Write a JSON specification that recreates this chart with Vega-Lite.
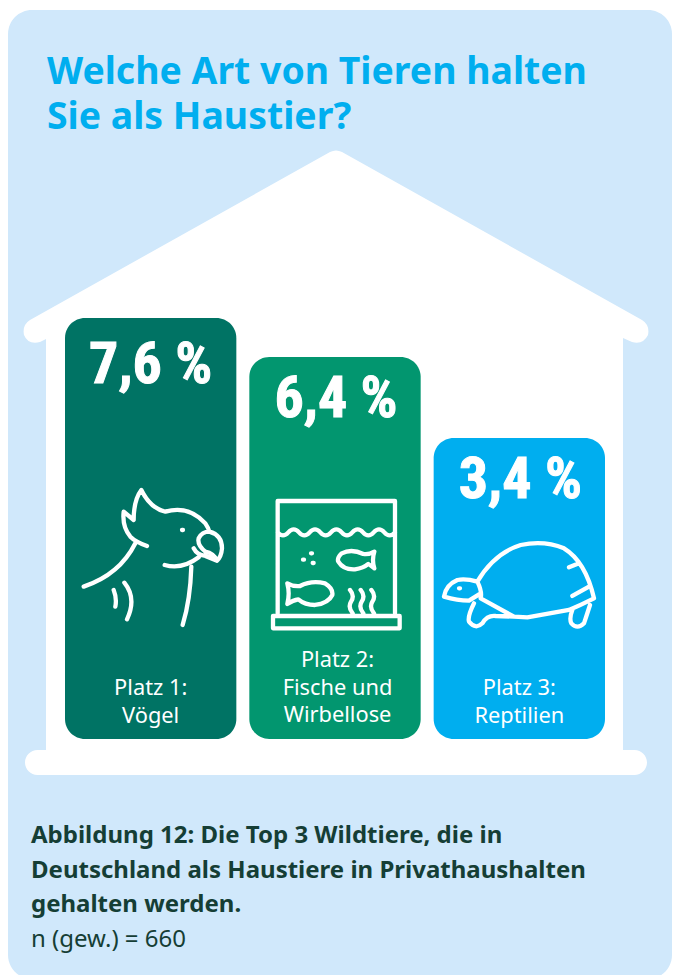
{
"$schema":"https://vega.github.io/schema/vega-lite/v6.json",
"width":676,"height":975,"autosize":"none","padding":0,"background":"white",
"config":{"view":{"stroke":null}},
"layer":[
{"data":{"values":[{"part":"card"}]},"mark":{"type":"point","shape":"M-306 -477.5 H310 A24 24 0 0 1 334 -453.5 V467.5 A24 24 0 0 1 310 491.5 H-306 A24 24 0 0 1 -330 467.5 V-453.5 A24 24 0 0 1 -306 -477.5 Z","size":4,"filled":true,"fill":"#d0e8fb","opacity":1,"strokeWidth":0}},
{"data":{"values":[{"part":"house"}]},"mark":{"type":"point","shape":"M -8 -335.5 Q -2 -338.5 4 -335.5 L 304 -167.5 Q 312 -162.5 310 -152.5 Q 305 -142.5 294 -145.5 L 285 -149.5 V 262.5 H 296.5 A 12.5 12.5 0 0 1 296.5 287.5 H -300.5 A 12.5 12.5 0 0 1 -300.5 262.5 H -292 V -148.5 L -298 -145.5 Q -310 -142.5 -314 -152.5 Q -316 -162.5 -308 -167.5 Z","size":4,"filled":true,"fill":"white","opacity":1,"strokeWidth":0}},
{"data":{"values":[{"heading":"Welche Art von Tieren halten\nSie als Haustier?"}]},"mark":{"type":"text","font":"Noto Sans","fontWeight":"bold","fontSize":37.4,"color":"#00aeef","align":"left","baseline":"alphabetic","lineBreak":"\n","lineHeight":45,"dx":-291,"dy":-403.5},"encoding":{"text":{"field":"heading"}}},
{"data":{"values":[
{"rank":"Platz 1","animal":"Vögel","value":7.6,"pct":"7,6 %","label":"Platz 1:\nVögel"},
{"rank":"Platz 2","animal":"Fische und Wirbellose","value":6.4,"pct":"6,4 %","label":"Platz 2:\nFische und\nWirbellose"},
{"rank":"Platz 3","animal":"Reptilien","value":3.4,"pct":"3,4 %","label":"Platz 3:\nReptilien"}
]},
"encoding":{
"x":{"field":"rank","type":"nominal","axis":null,"sort":null,"scale":{"domain":["Platz 1","Platz 2","Platz 3"],"range":[65,605],"paddingInner":0.0705,"paddingOuter":0}},
"y":{"field":"value","type":"quantitative","axis":null,"stack":null,"scale":{"domain":[0,3.4,6.4,7.6],"range":[739,438,357,318],"nice":false,"zero":false}}
},
"layer":[
{"mark":{"type":"bar","cornerRadius":20},"encoding":{"color":{"field":"rank","type":"nominal","legend":null,"scale":{"domain":["Platz 1","Platz 2","Platz 3"],"range":["#007364","#02966f","#00aeef"]}}}},
{"mark":{"type":"point","filled":false,"stroke":"white","strokeWidth":4.3,"strokeCap":"round","strokeJoin":"round","opacity":1,"size":0.4444},
"encoding":{"shape":{"field":"rank","type":"nominal","legend":null,"scale":{"domain":["Platz 1","Platz 2","Platz 3"],"range":[
"M-201 806 C-126 781 -76 736 -46 676 M-11 684 Q-46 671 -61 656 Q-86 626 -81 581 L-51 606 Q-51 546 -28 516 Q-1 571 44 581 Q114 561 164 616 Q174 631 176 641 Q214 651 214 691 Q212 716 199 728 Q189 706 164 701 Q139 681 144 661 Q154 641 176 641 M129 691 Q139 711 164 714 L199 728 M42 741 Q94 756 144 718 M122 746 Q119 846 96 921 M94 636 h3 M-79 794 Q-41 841 -71 904 M-111 816 Q-101 841 -106 866",
"M-172 769 V432 H180 V769 M-186 777 H194 V814 H-186 Z M-172 526 q16 18 32 0 q16 -18 32 0 q16 18 32 0 q16 -18 32 0 q16 18 32 0 q16 -18 32 0 q16 18 32 0 q16 -18 32 0 q16 18 32 0 q16 -18 32 0 q16 18 32 0 M-72 589 h3 M-96 608 h3 M-67 618 h3 M118 584 Q100 594 85 591 Q50 574 20 589 Q5 604 10 614 Q25 639 60 637 Q85 634 100 621 Q105 624 118 634 Q110 609 118 584 Z M-143 679 Q-125 689 -105 687 Q-70 669 -30 679 Q-5 694 -8 714 Q-20 739 -60 744 Q-90 744 -110 727 Q-125 729 -143 741 Q-135 709 -143 679 Z M45 699 Q60 717 48 734 Q38 751 53 769 M77 699 Q92 717 80 734 Q70 751 85 769 M109 699 Q124 717 112 734 Q102 751 117 769",
"M-126 431 Q-76 346 4 321 Q74 306 134 331 Q199 371 224 481 Q184 501 149 516 L24 538 L-16 536 L-116 481 Q-111 461 -126 431 Q-161 421 -186 426 Q-221 441 -226 476 Q-186 488 -151 488 L-116 466 M-181 451 h3 M-136 496 Q-156 536 -151 551 Q-131 576 -111 556 Q-96 531 -71 534 L-16 536 M159 516 Q149 541 156 556 Q174 576 194 556 Q204 526 212 501 M149 388 L179 376 M159 474 L209 446"
]}}}},
{"transform":[{"filter":"datum.value > 7"}],"mark":{"type":"text","font":"Roboto Condensed, Noto Sans Condensed, DejaVu Sans Condensed, Roboto","fontWeight":"bold","fontSize":58,"color":"white","stroke":"white","strokeWidth":1,"baseline":"alphabetic","dy":65},"encoding":{"text":{"field":"pct"}}},
{"transform":[{"filter":"datum.value < 7"}],"mark":{"type":"text","font":"Roboto Condensed, Noto Sans Condensed, DejaVu Sans Condensed, Roboto","fontWeight":"bold","fontSize":58,"color":"white","stroke":"white","strokeWidth":1,"baseline":"alphabetic","dy":60,"dx":1},"encoding":{"text":{"field":"pct"}}},
{"transform":[{"filter":"datum.value > 7 || datum.value < 4"}],"mark":{"type":"text","font":"Noto Sans","fontSize":21.8,"color":"white","lineBreak":"\n","lineHeight":27.5,"baseline":"alphabetic","dy":-44},"encoding":{"text":{"field":"label"},"y":{"datum":0}}},
{"transform":[{"filter":"datum.value > 4 && datum.value < 7"}],"mark":{"type":"text","font":"Noto Sans","fontSize":21.8,"color":"white","lineBreak":"\n","lineHeight":27.5,"baseline":"alphabetic","dy":-72,"dx":2.5},"encoding":{"text":{"field":"label"},"y":{"datum":0}}}
]},
{"data":{"values":[{"caption":"Abbildung 12: Die Top 3 Wildtiere, die in\nDeutschland als Haustiere in Privathaushalten\ngehalten werden."}]},"mark":{"type":"text","font":"Noto Sans","fontWeight":"bold","fontSize":24,"color":"#153e35","align":"left","baseline":"alphabetic","lineBreak":"\n","lineHeight":34.5,"dx":-307,"dy":355.5},"encoding":{"text":{"field":"caption"}}},
{"data":{"values":[{"note":"n (gew.) = 660"}]},"mark":{"type":"text","font":"Noto Sans","fontSize":24,"color":"#153e35","align":"left","baseline":"alphabetic","dx":-307,"dy":459.5},"encoding":{"text":{"field":"note"}}}
]
}
